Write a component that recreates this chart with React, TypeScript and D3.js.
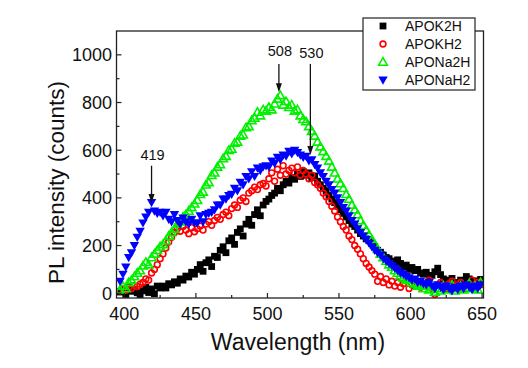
import React from "react";
import * as d3 from "d3";

const wavelengths: number[] = d3.range(397, 650, 2);

const apok2h: number[] = [
  5, 12, -5, 20, 8, 15, 2, -8, 10, 25, 3, 18, -2, 30, 22,
  30, 22, 40, 35, 48, 42, 60, 55, 72, 68, 88, 80,
  100, 120, 92, 128, 140, 112, 155, 150, 180, 195, 170, 220, 232, 205, 255, 270, 240, 290, 310, 285, 330, 350, 325, 370, 385,
  395, 410, 420, 440, 430, 455, 470, 462, 485, 478, 500, 490, 510, 495, 505, 485, 492, 470,
  455, 440, 430, 410, 395, 380, 365, 350, 335, 320, 305, 290, 280, 265, 250, 240, 228, 220,
  210, 195, 180, 172, 160, 150, 145, 135, 128, 140, 125, 110, 118, 100, 108, 95, 100, 85,
  80, 88, 70, 75, 90, 105, 78, 60, 55, 50, 62, 45, 40, 55, 48, 70, 60, 45, 52, 40, 58,
];

const apokh2: number[] = [
  10, 18, 12, 25, 20, 32, 28, 38, 45, 60, 55, 85, 100, 120, 145,
  165, 190, 215, 235, 255, 270, 260, 280, 265, 250, 275, 258,
  270, 282, 265, 290, 300, 285, 305, 318, 310, 330, 340, 325, 355, 370, 360, 390, 400, 385, 420, 430, 445, 435, 455, 460, 450,
  480, 505, 470, 520, 495, 535, 500, 515, 525, 505, 530, 495, 515, 500, 480, 495, 465, 455,
  440, 420, 405, 385, 365, 345, 320, 300, 280, 265, 240, 225, 200, 185, 165, 145, 125, 110,
  95, 80, 50, 70, 45, 60, 35, 50, 30, 45, 25, 40, 55, 20, 35, 30, 45, 25,
  40, 30, 55, 20, -5, 35, 45, 30, 20, 40, 50, 25, 35, 45, 30, 20, 40, 55, 30, 45, 35,
];

const apona2h: number[] = [
  15, 30, 20, 45, 55, 70, 85, 95, 115, 130, 120, 150, 165, 180, 195,
  205, 220, 240, 255, 270, 290, 300, 320, 330, 345, 360, 375,
  390, 415, 425, 455, 465, 495, 505, 530, 540, 565, 575, 600, 605, 630, 635, 660, 665, 695, 700, 725, 735, 760, 745, 770, 765,
  780, 770, 795, 815, 830, 790, 805, 780, 790, 765, 770, 745, 730, 720, 700, 680, 660, 635,
  615, 595, 575, 555, 530, 505, 480, 460, 440, 415, 395, 370, 350, 330, 305, 285, 265, 245,
  225, 205, 185, 165, 150, 135, 120, 110, 95, 85, 75, 65, 55, 60, 45, 40, 30, 35,
  20, 30, 15, 25, 5, 20, 10, 30, 15, 25, 35, 10, 20, 30, 15, 25, 40, 20, 30, 15, 45,
];

const aponah2: number[] = [
  50, 80, 110, 150, 170, 200, 235, 260, 295, 320, 340, 380, 345, 335, 340,
  325, 340, 310, 300, 330, 305, 290, 315, 300, 290, 310, 295,
  295, 325, 300, 330, 335, 340, 350, 370, 370, 395, 395, 410, 415, 440, 430, 465, 455, 490, 480, 510, 490, 525, 515, 530, 535,
  530, 555, 545, 570, 560, 580, 575, 595, 585, 600, 590, 580, 570, 575, 555, 560, 540, 525,
  505, 490, 470, 455, 435, 420, 400, 380, 360, 345, 325, 305, 290, 270, 255, 240, 225, 210,
  195, 180, 170, 160, 145, 135, 125, 115, 105, 95, 85, 80, 70, 65, 55, 60, 45, 50,
  40, 35, 45, 30, 20, 35, 25, 15, 30, 20, 10, 25, 15, 30, 20, 35, 25, 15, 30, 20, 35,
];

const seriesNames = ["APOK2H", "APOKH2", "APONa2H", "APONaH2"];
const seriesValues = [apok2h, apokh2, apona2h, aponah2];
const seriesColors = ["#000000", "#ff0000", "#00f000", "#0000ff"];
const seriesShapes = ["square", "circle", "triUp", "triDown"];

const xTicks = [400, 450, 500, 550, 600, 650];
const xMinor = [425, 475, 525, 575, 625];
const yTicks = [0, 200, 400, 600, 800, 1000];
const yMinor = [100, 300, 500, 700, 900];

const annotations = [
  { label: "419", nm: 419, textV: 560, startV: 535, tipV: 378 },
  { label: "508", nm: 508, textV: 995, startV: 962, tipV: 843 },
  { label: "530", nm: 530, textV: 985, startV: 962, tipV: 580 },
];

const FONT = "'Liberation Sans', Arial, Helvetica, sans-serif";

function Marker({ shape, color, x, y }: { shape: string; color: string; x: number; y: number }) {
  if (shape === "square") {
    return <rect x={x - 3.4} y={y - 3.4} width={6.8} height={6.8} fill={color} />;
  }
  if (shape === "circle") {
    return <circle cx={x} cy={y} r={2.9} fill="none" stroke={color} strokeWidth={1.6} />;
  }
  if (shape === "triUp") {
    const s = 4.3;
    return (
      <path
        d={`M${x},${y - s} L${x + s},${y + s * 0.75} L${x - s},${y + s * 0.75} Z`}
        fill="none"
        stroke={color}
        strokeWidth={1.6}
      />
    );
  }
  const s = 4.7;
  return (
    <path d={`M${x},${y + s} L${x + s},${y - s * 0.75} L${x - s},${y - s * 0.75} Z`} fill={color} />
  );
}

export default function App() {
  const W = 528;
  const H = 368;
  const left = 116.5;
  const right = 483.5;
  const top = 31;
  const bottom = 298;
  const x = d3.scaleLinear().domain([394.5, 651]).range([left, right]);
  const y = d3.scaleLinear().domain([-20, 1100]).range([bottom, top]);

  return (
    <svg
      width={W}
      height={H}
      style={{ position: "absolute", left: 0, top: 0, background: "#fff" }}
      fontFamily={FONT}
    >
      <defs>
        <clipPath id="plotclip">
          <rect x={left} y={top} width={right - left} height={bottom - top} />
        </clipPath>
      </defs>
      <rect x={0} y={0} width={W} height={H} fill="#fff" />

      <g clipPath="url(#plotclip)">
        {seriesValues.map((vals, si) => (
          <g key={si}>
            {vals.map((v, i) => (
              <Marker
                key={i}
                shape={seriesShapes[si]}
                color={seriesColors[si]}
                x={x(wavelengths[i])}
                y={y(v)}
              />
            ))}
          </g>
        ))}
      </g>

      {/* frame */}
      <rect x={left} y={top} width={right - left} height={bottom - top} fill="none" stroke="#222" strokeWidth={1.3} />

      {/* x ticks */}
      {xTicks.map((t) => (
        <g key={"xt" + t}>
          <line x1={x(t)} x2={x(t)} y1={bottom} y2={bottom - 5} stroke="#222" strokeWidth={1.2} />
          <text x={x(t)} y={320} textAnchor="middle" fontSize={18} fill="#111">
            {t}
          </text>
        </g>
      ))}
      {xMinor.map((t) => (
        <line key={"xm" + t} x1={x(t)} x2={x(t)} y1={bottom} y2={bottom - 3} stroke="#222" strokeWidth={1.2} />
      ))}

      {/* y ticks */}
      {yTicks.map((t) => (
        <g key={"yt" + t}>
          <line x1={left} x2={left + 5} y1={y(t)} y2={y(t)} stroke="#222" strokeWidth={1.2} />
          <text x={112} y={y(t) + 6.5} textAnchor="end" fontSize={18} fill="#111">
            {t}
          </text>
        </g>
      ))}
      {yMinor.map((t) => (
        <line key={"ym" + t} x1={left} x2={left + 3} y1={y(t)} y2={y(t)} stroke="#222" strokeWidth={1.2} />
      ))}

      {/* axis titles */}
      <text x={298} y={350} textAnchor="middle" fontSize={23} fill="#111">
        Wavelength (nm)
      </text>
      <text
        transform={`translate(64, ${(top + bottom) / 2 + 18}) rotate(-90)`}
        textAnchor="middle"
        fontSize={22.5}
        fill="#111"
      >
        PL intensity (counts)
      </text>

      {/* annotations */}
      {annotations.map((a) => {
        const ax = x(a.nm);
        const tip = y(a.tipV);
        return (
          <g key={a.label}>
            <text x={ax + 1} y={y(a.textV)} textAnchor="middle" fontSize={14.5} fill="#111">
              {a.label}
            </text>
            <line x1={ax} x2={ax} y1={y(a.startV)} y2={tip - 7} stroke="#111" strokeWidth={1.3} />
            <path d={`M${ax - 3},${tip - 9} L${ax + 3},${tip - 9} L${ax},${tip} Z`} fill="#111" />
          </g>
        );
      })}

      {/* legend */}
      <g>
        <rect x={363} y={18} width={112} height={72} fill="#fff" stroke="#222" strokeWidth={1.2} />
        {seriesNames.map((n, i) => {
          const ly = 26 + i * 18;
          return (
            <g key={n}>
              <Marker shape={seriesShapes[i]} color={seriesColors[i]} x={383} y={ly} />
              <text x={405} y={ly + 5} fontSize={14} fill="#111">
                {n}
              </text>
            </g>
          );
        })}
      </g>
    </svg>
  );
}
